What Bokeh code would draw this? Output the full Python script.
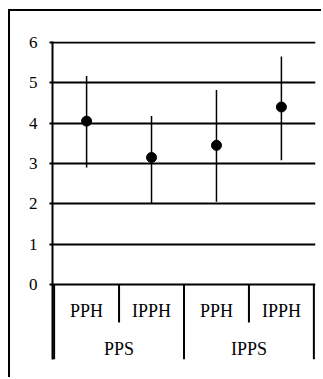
from bokeh.plotting import figure
from bokeh.models import FactorRange, Range1d, FixedTicker
from bokeh.core.properties import value
from bokeh.embed import file_html
from bokeh.resources import INLINE

# ---- data ----
groups = ["PPS", "PPS", "IPPS", "IPPS"]
subgroups = ["PPH", "IPPH", "PPH", "IPPH"]
means = [4.05, 3.15, 3.45, 4.40]
lows = [2.90, 2.00, 2.05, 3.08]
highs = [5.17, 4.18, 4.82, 5.65]
y_ticks = [0, 1, 2, 3, 4, 5, 6]

# ---- layout constants (data units below zero used for the category band) ----
Y_BOTTOM = -1.86
Y_TOP_PAD = 0.025
INNER_SEP_END = -0.94
SUB_LABEL_Y = -0.65
GROUP_LABEL_Y = -1.59

FONT = "Liberation Serif"

factors = list(zip(groups, subgroups))
x_range = FactorRange(*factors, factor_padding=0, group_padding=0,
                      subgroup_padding=0, range_padding=0.025,
                      range_padding_units="absolute")
y_range = Range1d(Y_BOTTOM, max(y_ticks) + Y_TOP_PAD)

p = figure(x_range=x_range, y_range=y_range, width=313, height=368,
           output_backend="svg", toolbar_location=None, x_axis_location=None,
           min_border_left=42, min_border_right=8, min_border_top=30,
           min_border_bottom=20,
           styles={"margin-left": "8px", "margin-top": "9px",
                   "border-left": "2px solid black",
                   "border-top": "2px solid black"})
p.outline_line_color = None
p.background_fill_color = "white"
p.border_fill_color = "white"

ticker = FixedTicker(ticks=y_ticks, minor_ticks=[])
ax = p.yaxis[0]
ax.ticker = ticker
ax.axis_line_color = "black"
ax.axis_line_width = 2
ax.major_tick_out = 3
ax.major_tick_in = 0
ax.major_tick_line_width = 2
ax.major_tick_line_color = "black"
ax.minor_tick_out = 0
ax.minor_tick_in = 0
ax.major_label_standoff = 12
ax.major_label_text_font = FONT
ax.major_label_text_font_size = "17px"
ax.major_label_text_color = "black"

p.xgrid.visible = False
p.ygrid.ticker = ticker
p.ygrid.grid_line_color = "black"
p.ygrid.grid_line_width = 2
p.ygrid.grid_line_alpha = 1

# separators in the category band
n = len(factors)
sep_x, sep_y1 = [], []
for i in range(n + 1):
    outer = i == 0 or i == n or groups[i] != groups[i - 1]
    sep_x.append(i)
    sep_y1.append(Y_BOTTOM if outer else INNER_SEP_END)
p.segment(x0=sep_x, y0=[0] * len(sep_x), x1=sep_x, y1=sep_y1,
          line_color="black", line_width=2)

# error bars and means
p.segment(x0=factors, y0=lows, x1=factors, y1=highs,
          line_color="black", line_width=1.5)
p.scatter(x=factors, y=means, size=10, marker="circle",
          fill_color="black", line_color="black")

# category labels
p.text(x=factors, y=[SUB_LABEL_Y] * n, text=subgroups,
       text_font=value(FONT), text_font_size="18px", text_color="black",
       text_align="center", text_baseline="middle")
uniq_groups = list(dict.fromkeys(groups))
p.text(x=uniq_groups, y=[GROUP_LABEL_Y] * len(uniq_groups), text=uniq_groups,
       text_font=value(FONT), text_font_size="18px", text_color="black",
       text_align="center", text_baseline="middle")

open("out.html", "w").write(file_html(p, INLINE))
